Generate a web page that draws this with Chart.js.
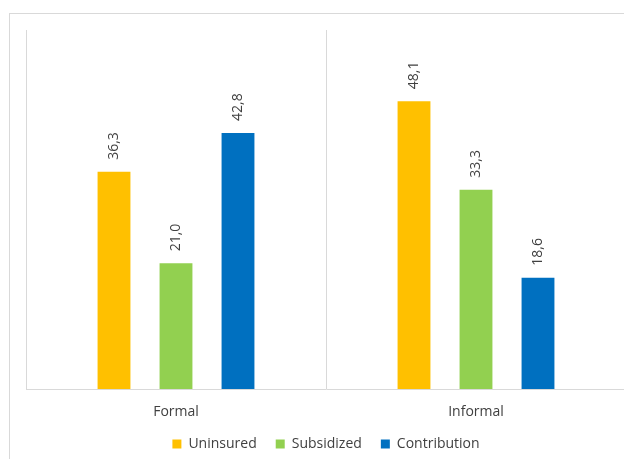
<!DOCTYPE html>
<html>
<head>
<meta charset="utf-8">
<script src="https://cdn.jsdelivr.net/npm/chart.js@4"></script>
<style>
    html, body { margin: 0; padding: 0; overflow: hidden; background: #fff; }
    #wrap { position: absolute; left: 0; top: 0; width: 640px; height: 461px; }
    #frame { position: absolute; left: 9px; top: 13px; width: 700px; height: 520px; border: 1px solid #d9d9d9; pointer-events: none; }
</style>
</head>
<body>
<div id="wrap">
    <canvas id="insuranceChart" width="640" height="461"></canvas>
</div>
<div id="frame"></div>
<script>
const categories = ["Formal", "Informal"];
const uninsured = [36.3, 48.1];
const subsidized = [21.0, 33.3];
const contribution = [42.8, 18.6];

const fontFamily = '"Open Sans", "DejaVu Sans", sans-serif';

// Rotated value labels above each bar (decimal comma, like the source)
const valueLabels = {
    id: "valueLabels",
    afterDatasetsDraw(chart) {
        const ctx = chart.ctx;
        ctx.save();
        ctx.font = "14px " + fontFamily;
        ctx.fillStyle = "#404040";
        ctx.textAlign = "left";
        ctx.textBaseline = "middle";
        chart.data.datasets.forEach((ds, i) => {
            chart.getDatasetMeta(i).data.forEach((bar, j) => {
                const txt = ds.data[j].toFixed(1).replace(".", ",");
                ctx.save();
                ctx.translate(bar.x, bar.y - 12);
                ctx.rotate(-Math.PI / 2);
                ctx.fillText(txt, 0, 0);
                ctx.restore();
            });
        });
        ctx.restore();
    }
};

const canvas = document.getElementById("insuranceChart");
const ctx = canvas.getContext("2d");

new Chart(ctx, {
    type: "bar",
    data: {
        labels: categories,
        datasets: [
            { label: "Uninsured", data: uninsured, backgroundColor: "#FFC000" },
            { label: "Subsidized", data: subsidized, backgroundColor: "#92D050" },
            { label: "Contribution", data: contribution, backgroundColor: "#0070C0" },
        ],
    },
    options: {
        responsive: false,
        animation: false,
        layout: {
            padding: { left: 26, top: 30, right: 14, bottom: 0 },
        },
        datasets: {
            bar: {
                categoryPercentage: 0.62,
                barPercentage: 0.53,
            },
        },
        scales: {
            x: {
                grid: {
                    color: "#d9d9d9",
                    drawTicks: false,
                    offset: true,
                },
                border: { color: "#d9d9d9" },
                ticks: {
                    color: "#404040",
                    padding: 15,
                    font: { family: fontFamily, size: 14 },
                },
                // tighter than Chart.js' default (padding counted once)
                afterFit: (scale) => { scale.height = 29; },
            },
            y: {
                display: false,
                min: 0,
                max: 60,
            },
        },
        plugins: {
            legend: {
                position: "bottom",
                labels: {
                    color: "#404040",
                    boxWidth: 9,
                    boxHeight: 9,
                    padding: 19,
                    font: { family: fontFamily, size: 14 },
                },
            },
            tooltip: { enabled: false },
        },
    },
    plugins: [valueLabels],
});
</script>
</body>
</html>
